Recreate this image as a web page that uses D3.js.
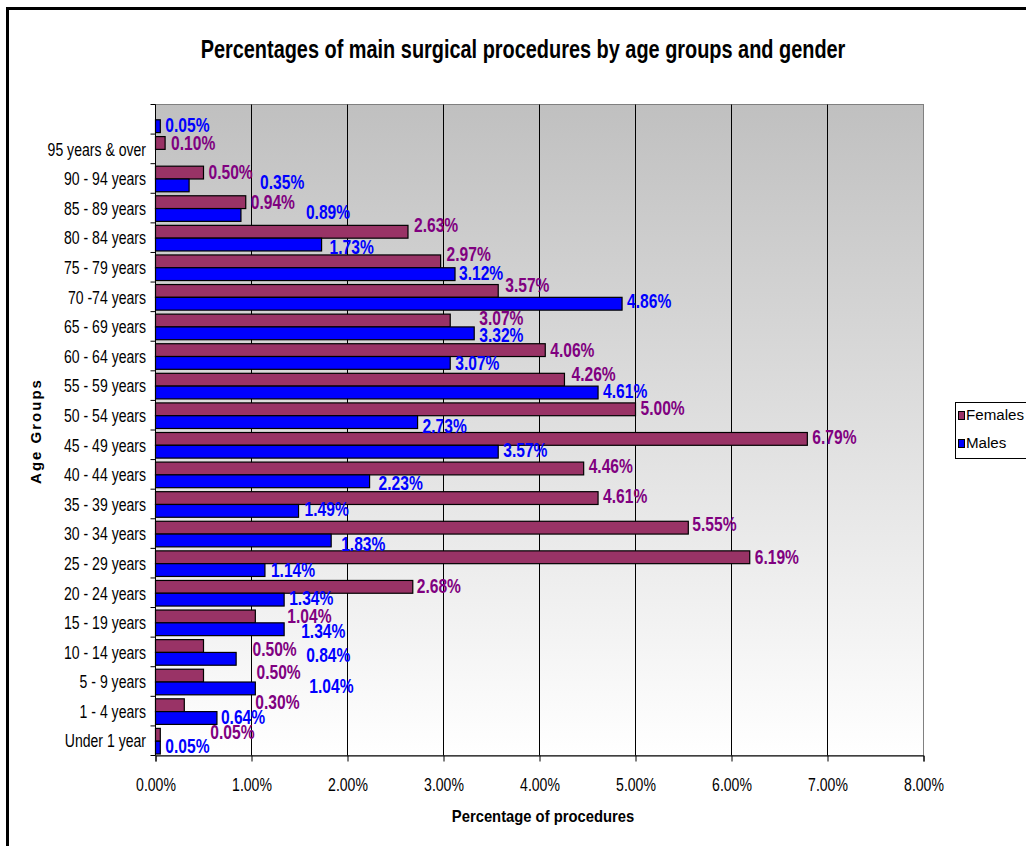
<!DOCTYPE html>
<html>
<head>
<meta charset="utf-8">
<script src="https://cdn.jsdelivr.net/npm/d3@7"></script>
<style>
  html, body { margin: 0; padding: 0; background: #fff; }
  svg { display: block; }
  text { font-family: "Liberation Sans", Arial, sans-serif; }
</style>
</head>
<body>
<svg id="chart" width="1026" height="846"></svg>
<script>
// ---- data (top band to bottom band) ----
const categories = ["", "95 years & over", "90 - 94 years", "85 - 89 years", "80 - 84 years",
  "75 - 79 years", "70 -74 years", "65 - 69 years", "60 - 64 years", "55 - 59 years",
  "50 - 54 years", "45 - 49 years", "40 - 44 years", "35 - 39 years", "30 - 34 years",
  "25 - 29 years", "20 - 24 years", "15 - 19 years", "10 - 14 years", "5 - 9 years",
  "1 - 4 years", "Under 1 year"];
const females = [null, 0.10, 0.50, 0.94, 2.63, 2.97, 3.57, 3.07, 4.06, 4.26, 5.00, 6.79,
  4.46, 4.61, 5.55, 6.19, 2.68, 1.04, 0.50, 0.50, 0.30, 0.05];
const males = [0.05, null, 0.35, 0.89, 1.73, 3.12, 4.86, 3.32, 3.07, 4.61, 2.73, 3.57,
  2.23, 1.49, 1.83, 1.14, 1.34, 1.34, 0.84, 1.04, 0.64, 0.05];
const seriesNames = ["Females", "Males"];
const xTicks = [0, 1, 2, 3, 4, 5, 6, 7, 8];

// hand-moved data label nudges [dx, dy] relative to bar end / bar centre
const femaleLabelNudge = [null, [6,0], [5,0], [5,0], [6,-6], [6,-7], [7,-6], [29,-2], [5,0], [7,-5],
  [5,-1], [5,-2], [5,-2], [5,-2], [4,-3], [5,0], [4,-1], [32,0], [49,3], [53,-3], [71,-3], [50,-2]];
const maleLabelNudge = [[5,-1], null, [71,-3], [65,-3], [8,3], [4,-1], [5,-2], [5,2], [5,0], [5,-1],
  [5,4], [5,-1], [9,2], [6,-2], [10,4], [6,0], [5,-1], [17,2], [70,-4], [54,-2], [4,-1], [5,-1]];

// ---- layout ----
const svg = d3.select("#chart");
const plot = { left: 155.5, right: 923.5, top: 104.5, bottom: 755.5 };
const colors = { Females: "#993366", Males: "#0000FF" };
const labelColors = { Females: "#800080", Males: "#0000FF" };

const x = d3.scaleLinear().domain([0, 8]).range([plot.left, plot.right]);
const y = d3.scaleBand().domain(categories.map((c, i) => i)).range([plot.top, plot.bottom]).padding(0);
const bw = y.bandwidth();
const ySub = d3.scaleBand().domain(seriesNames).range([2.5, bw - 1.5]).padding(0);

// text helper: place condensed text at (tx,ty)
function addText(parent, tx, ty, str, opts) {
  const t = parent.append("text")
    .attr("transform", `translate(${tx},${ty}) scale(${opts.sx || 1},1)${opts.rot ? " rotate(" + opts.rot + ")" : ""}`)
    .attr("text-anchor", opts.anchor || "start")
    .attr("dominant-baseline", "central")
    .attr("font-size", opts.size)
    .attr("font-weight", opts.bold ? "bold" : "normal")
    .attr("fill", opts.fill || "#000")
    .text(str);
  if (opts.ls) t.attr("letter-spacing", opts.ls);
  return t;
}

// outer chart border
svg.append("rect").attr("x", 7.5).attr("y", 8.5).attr("width", 1100).attr("height", 900)
  .attr("fill", "none").attr("stroke", "#000").attr("stroke-width", 3);

// gradient
const defs = svg.append("defs");
const grad = defs.append("linearGradient").attr("id", "bg").attr("x1", 0).attr("y1", 0).attr("x2", 0).attr("y2", 1);
grad.append("stop").attr("offset", "0%").attr("stop-color", "#c0c0c0");
grad.append("stop").attr("offset", "100%").attr("stop-color", "#ffffff");

svg.append("rect").attr("x", plot.left).attr("y", plot.top)
  .attr("width", plot.right - plot.left).attr("height", plot.bottom - plot.top)
  .attr("fill", "url(#bg)").attr("stroke", "#808080").attr("stroke-width", 1);

// gridlines
svg.append("g").selectAll("line").data(xTicks.filter(t => t > 0 && t < 8)).join("line")
  .attr("x1", d => x(d)).attr("x2", d => x(d))
  .attr("y1", plot.top).attr("y2", plot.bottom)
  .attr("stroke", "#000").attr("stroke-width", 1);

// x axis
const xAxis = d3.axisBottom(x).tickValues(xTicks).tickFormat(d => d.toFixed(2) + "%").tickSize(6);
const gx = svg.append("g").attr("transform", `translate(0,${plot.bottom})`).call(xAxis);
gx.select(".domain").attr("stroke", "#000");
gx.selectAll(".tick line").attr("stroke", "#000");
gx.selectAll(".tick text")
  .attr("x", null).attr("y", null).attr("dy", null)
  .attr("transform", "translate(0,28.5) scale(0.76,1)")
  .attr("dominant-baseline", "central")
  .attr("font-size", 18.5).attr("fill", "#000")
  .attr("font-family", "Liberation Sans, Arial, sans-serif");

// y axis: ticks at band boundaries
const gy = svg.append("g");
gy.append("line").attr("x1", plot.left).attr("x2", plot.left).attr("y1", plot.top).attr("y2", plot.bottom).attr("stroke", "#000");
const bounds = d3.range(categories.length + 1).map(i => plot.top + i * bw);
gy.selectAll("line.tk").data(bounds).join("line").attr("class", "tk")
  .attr("x1", plot.left - 5).attr("x2", plot.left).attr("y1", d => d).attr("y2", d => d).attr("stroke", "#000");
categories.forEach((c, i) => {
  if (c) addText(gy, 146, y(i) + bw / 2, c, { size: 18.5, sx: 0.76, anchor: "end" });
});

// bars
const series = [
  { name: "Females", values: females, nudge: femaleLabelNudge },
  { name: "Males", values: males, nudge: maleLabelNudge }
];
series.forEach(s => {
  const g = svg.append("g");
  const pts = s.values.map((v, i) => ({ v, i, n: s.nudge[i] })).filter(d => d.v !== null);
  g.selectAll("rect").data(pts).join("rect")
    .attr("x", x(0)).attr("y", d => y(d.i) + ySub(s.name))
    .attr("width", d => x(d.v) - x(0)).attr("height", ySub.bandwidth())
    .attr("fill", colors[s.name]).attr("stroke", "#000").attr("stroke-width", 1.2);
  const lg = svg.append("g");
  pts.forEach(d => {
    addText(lg, x(d.v) + d.n[0], y(d.i) + ySub(s.name) + ySub.bandwidth() / 2 + d.n[1],
      d.v.toFixed(2) + "%", { size: 20, sx: 0.78, bold: true, fill: labelColors[s.name] });
  });
});

// title
addText(svg, 523, 49, "Percentages of main surgical procedures by age groups and gender",
  { size: 26, sx: 0.766, bold: true, anchor: "middle" });

// axis titles
addText(svg, 543, 816, "Percentage of procedures", { size: 17, sx: 0.87, bold: true, anchor: "middle" });
addText(svg, 35, 431, "Age Groups", { size: 15, bold: true, anchor: "middle", rot: -90, ls: 2 });

// legend
const lgd = svg.append("g");
lgd.append("rect").attr("x", 955.5).attr("y", 402.5).attr("width", 90).attr("height", 56)
  .attr("fill", "#fff").attr("stroke", "#000");
seriesNames.forEach((n, i) => {
  const cy = 415.5 + i * 28;
  lgd.append("rect").attr("x", 958.5).attr("y", cy - 4).attr("width", 6).attr("height", 8)
    .attr("fill", colors[n]).attr("stroke", "#000");
  addText(lgd, 966, cy, n, { size: 14, sx: 1.08 });
});
</script>
</body>
</html>
